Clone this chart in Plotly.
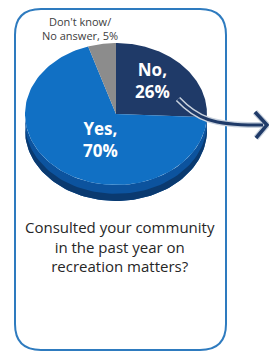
import numpy as np
import plotly.graph_objects as go

# ---- data ----
categories = ["No", "Yes", "Don't know/<br>No answer"]
values = [26, 70, 5]
question = "Consulted your community<br>in the past year on<br>recreation matters?"

top_colors = ["#1f3a68", "#1170c4", "#8c8c8c"]
side_colors = ["#172c52", "#0c539e", "#666666"]
side_dark = ["#101f3a", "#0a3a70", "#4d4d4d"]

W, H = 269, 352
cx, cy, rx, ry, depth = 116, 114, 91, 71, 16

total = float(sum(values))
cum = np.cumsum([0] + values) / total * 2 * np.pi


def pt(phi, dy=0.0):
    return cx + rx * np.sin(phi), cy - ry * np.cos(phi) + dy


fig = go.Figure()

# side walls (front half only)
for i in range(len(values)):
    lo, hi = max(cum[i], np.pi / 2), min(cum[i + 1], 3 * np.pi / 2)
    if hi > lo:
        t = np.linspace(lo, hi, 80)
        for (d0, d1, col) in [(0, depth, side_colors[i]), (depth * 0.55, depth, side_dark[i])]:
            x0, y0 = pt(t, d0)
            x1, y1 = pt(t[::-1], d1)
            fig.add_trace(go.Scatter(
                x=np.concatenate([x0, x1]), y=np.concatenate([y0, y1]),
                fill="toself", fillcolor=col, mode="lines",
                line=dict(width=0, color=col), hoverinfo="skip", showlegend=False))

# top face slices
for i in range(len(values)):
    t = np.linspace(cum[i], cum[i + 1], 120)
    x, y = pt(t)
    fig.add_trace(go.Scatter(
        x=np.concatenate([[cx], x, [cx]]), y=np.concatenate([[cy], y, [cy]]),
        fill="toself", fillcolor=top_colors[i], mode="lines",
        line=dict(width=0, color=top_colors[i]), hoverinfo="skip", showlegend=False))

fig.add_annotation(x=152, y=80, xref="x", yref="y", showarrow=False,
                   text=f"<b>{categories[0]},<br>{values[0]}%</b>",
                   font=dict(family="Open Sans", size=17, color="white"))
fig.add_annotation(x=100, y=139, xref="x", yref="y", showarrow=False,
                   text=f"<b>{categories[1]},<br>{values[1]}%</b>",
                   font=dict(family="Open Sans", size=17, color="white"))
fig.add_annotation(x=80, y=28, xref="x", yref="y", showarrow=False,
                   text=f"{categories[2]}, {values[2]}%",
                   font=dict(family="Open Sans", size=11, color="#404040"))
fig.add_annotation(x=120, y=246, xref="x", yref="y", showarrow=False,
                   text=question,
                   font=dict(family="Open Sans", size=15, color="#262626"))

# rounded frame
x0, y0, x1, y1, r = 15, 9, 226, 350, 26
frame = (f"M {x0+r},{y0} L {x1-r},{y0} Q {x1},{y0} {x1},{y0+r} "
         f"L {x1},{y1-r} Q {x1},{y1} {x1-r},{y1} L {x0+r},{y1} "
         f"Q {x0},{y1} {x0},{y1-r} L {x0},{y0+r} Q {x0},{y0} {x0+r},{y0} Z")
fig.add_shape(type="path", path=frame, xref="x", yref="y",
              line=dict(color="#2e7bbf", width=2), layer="below")

# curved arrow
arrow = "M 178,99 C 196,118 212,126 263,125"
head = "M 255,112 L 267,125 L 256,138"
for path, w in [(arrow, 6), (head, 6)]:
    fig.add_shape(type="path", path=path, xref="x", yref="y",
                  line=dict(color="#c9d2de", width=w))
for path, w in [(arrow, 3), (head, 3.5)]:
    fig.add_shape(type="path", path=path, xref="x", yref="y",
                  line=dict(color="#1f3a68", width=w))

fig.update_xaxes(range=[0, W], visible=False, fixedrange=True)
fig.update_yaxes(range=[H, 0], visible=False, fixedrange=True)
fig.update_layout(width=W, height=H, autosize=False,
                  margin=dict(l=0, r=0, t=0, b=0),
                  paper_bgcolor="white", plot_bgcolor="white",
                  showlegend=False)

fig.write_html("out.html", config={"displayModeBar": False},
               post_script="document.body.style.margin='0';"
                           "document.documentElement.style.overflow='hidden';")
